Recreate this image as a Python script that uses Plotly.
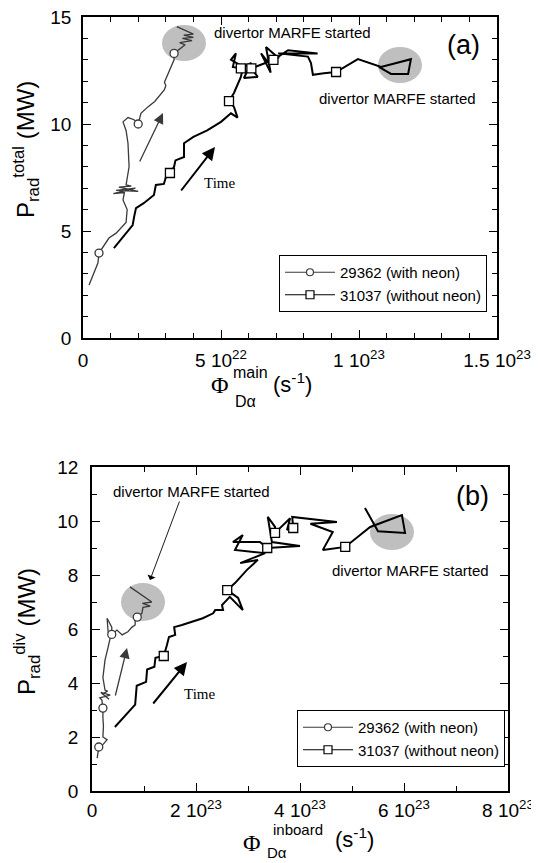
import numpy as np
import plotly.graph_objects as go

W, H = 539, 863          # browser window
OFF = 8                  # default page margin around the plot div
FW, FH = W - OFF, H - OFF

# ---------------- data: panel (a) (x in units of 1e22 s^-1, y in MW) ----------
neon_a_x = [0.22, 0.35, 0.45, 0.54, 0.58, 0.75, 0.94, 1.20, 1.56, 1.60,
            1.45, 1.50, 1.10, 1.90, 1.20, 2.00, 1.30, 1.75, 1.56, 1.67,
            1.63, 1.56, 1.45, 1.63, 1.85, 2.00, 2.10, 2.35, 2.60, 2.95,
            3.00, 2.95, 3.13, 3.30, 3.30, 3.44, 3.70, 3.50, 3.95, 3.60,
            4.00, 3.65, 4.00, 3.40]
neon_a_y = [2.48, 2.90, 3.30, 3.50, 3.97, 4.30, 4.67, 4.90, 5.40, 6.00,
            6.45, 6.80, 6.75, 7.00, 6.90, 6.85, 7.05, 7.10, 7.15, 8.00,
            9.10, 9.70, 10.10, 10.30, 10.20, 10.00, 10.50, 10.80, 11.05, 11.60,
            11.80, 11.95, 12.50, 13.00, 13.30, 13.45, 13.70, 13.80, 13.90, 14.00,
            14.05, 14.15, 14.20, 14.55]
neon_a_marks = [4, 25, 34]

noneon_a_x = [1.12, 1.56, 1.80, 1.85, 1.92, 2.20, 2.57, 2.64, 2.93, 3.00,
              3.15, 3.30, 3.35, 3.66, 3.66, 4.00, 4.50, 5.00, 5.36, 5.60,
              5.47, 5.29, 5.47, 5.72, 5.80, 5.36, 5.54, 5.43, 5.72, 6.10,
              5.83, 6.33, 6.10, 6.70, 6.45, 6.80, 6.63, 7.07, 6.90, 7.43,
              8.50, 7.07, 8.15, 8.26, 8.33, 8.73, 9.17, 9.96, 10.80, 11.88,
              11.78, 11.16, 10.72]
noneon_a_y = [4.20, 4.90, 5.28, 5.65, 6.07, 6.30, 6.68, 7.15, 7.20, 7.50,
              7.71, 8.00, 8.30, 8.46, 9.10, 9.40, 9.70, 10.10, 10.50, 10.30,
              10.80, 11.07, 11.45, 12.20, 12.67, 13.00, 13.30, 12.67, 12.60, 12.85,
              12.15, 12.20, 12.60, 12.90, 13.30, 12.40, 13.60, 13.10, 13.00, 13.45,
              13.30, 13.30, 13.15, 12.85, 12.30, 12.37, 12.43, 13.03, 12.67, 13.03,
              12.34, 12.34, 12.67]
noneon_a_marks = [10, 21, 28, 32, 38, 46]

# ---------------- data: panel (b) (x in units of 1e23 s^-1, y in MW) ----------
neon_b_x = [0.10, 0.12, 0.13, 0.21, 0.29, 0.21, 0.22, 0.21, 0.21, 0.19,
            0.15, 0.35, 0.17, 0.33, 0.20, 0.30, 0.25, 0.21, 0.25, 0.31,
            0.35, 0.31, 0.29, 0.38, 0.38, 0.48, 0.58, 0.69, 0.77, 0.83,
            0.83, 0.87, 0.96, 0.98, 1.12, 0.97, 1.15, 0.73]
neon_b_y = [1.22, 1.45, 1.63, 1.72, 1.90, 2.00, 2.40, 2.70, 3.07, 3.37,
            3.45, 3.55, 3.65, 3.40, 3.60, 3.70, 3.74, 4.20, 4.85, 5.33,
            5.67, 5.90, 6.40, 6.07, 5.80, 5.96, 5.78, 5.90, 6.07, 6.15,
            6.33, 6.44, 6.58, 6.80, 6.85, 6.95, 7.00, 7.56]
neon_b_marks = [2, 8, 24, 31]

noneon_b_x = [0.44, 0.65, 0.83, 0.86, 1.04, 1.06, 1.20, 1.22, 1.31, 1.38,
              1.44, 1.48, 1.60, 1.58, 1.73, 2.13, 2.33, 2.37, 2.52, 2.50,
              2.65, 2.90, 2.81, 2.60, 2.75, 2.98, 3.19, 2.85, 3.33, 2.75,
              2.90, 2.71, 3.23, 3.37, 4.00, 3.46, 3.38, 3.52, 3.52, 3.81,
              3.75, 3.87, 3.85, 4.71, 4.20, 4.63, 4.44, 4.87, 5.35, 5.96,
              6.02, 5.50, 5.25]
noneon_b_y = [2.37, 2.80, 3.20, 3.90, 4.04, 4.50, 4.60, 4.93, 4.96, 5.00,
              5.40, 5.70, 5.78, 6.07, 6.15, 6.40, 6.58, 6.70, 6.70, 6.89,
              7.19, 6.70, 7.15, 7.44, 7.70, 8.19, 8.56, 8.44, 8.81, 8.93,
              9.48, 9.22, 9.22, 9.00, 9.07, 9.22, 10.15, 9.78, 9.56, 10.10,
              9.67, 9.74, 10.15, 9.96, 9.90, 9.59, 8.93, 9.04, 9.78, 10.22,
              9.56, 9.62, 10.48]
noneon_b_marks = [9, 23, 33, 38, 41, 47]

series_names = ["29362 (with neon)", "31037 (without neon)"]
x_ticks_a = [0, 5e22, 1e23, 1.5e23]
x_ticktext_a = ["0", "5 10<sup>22</sup>", "1 10<sup>23</sup>", "1.5 10<sup>23</sup>"]
x_ticks_b = [0, 2e23, 4e23, 6e23, 8e23]
x_ticktext_b = ["0", "2 10<sup>23</sup>", "4 10<sup>23</sup>", "6 10<sup>23</sup>", "8 10<sup>23</sup>"]

SCALE_A = 1e22
SCALE_B = 1e23

NEON_COLOR = "#3a3a3a"
SANS = "Liberation Sans, Arial, sans-serif"
SERIF = "Liberation Serif, Times New Roman, serif"


def px2paper(px, py):
    """window pixel -> paper coordinate of the (offset) figure"""
    return (px - OFF) / FW, 1 - (py - OFF) / FH


fig = go.Figure()


def add_series(x, y, marks, scale, xa, ya, color, width, symbol, msize, legend, name):
    xs = np.array(x) * scale
    ys = np.array(y)
    idx = np.array(marks)
    fig.add_trace(go.Scatter(x=xs, y=ys, mode="lines", xaxis=xa, yaxis=ya,
                             line=dict(color=color, width=width), showlegend=False,
                             hoverinfo="skip"))
    fig.add_trace(go.Scatter(x=xs[idx], y=ys[idx], mode="markers", xaxis=xa, yaxis=ya,
                             marker=dict(symbol=symbol, size=msize, color="white",
                                         line=dict(color=color, width=1.3)),
                             showlegend=False, hoverinfo="skip"))
    # legend entry
    fig.add_trace(go.Scatter(x=[None], y=[None], mode="lines+markers", xaxis=xa, yaxis=ya,
                             name=name, legend=legend,
                             line=dict(color=color, width=1.1),
                             marker=dict(symbol=symbol, size=msize - 1, color="white",
                                         line=dict(color=color, width=1.2))))


add_series(neon_a_x, neon_a_y, neon_a_marks, SCALE_A, "x", "y", NEON_COLOR, 1.3,
           "circle", 8, "legend", series_names[0])
add_series(noneon_a_x, noneon_a_y, noneon_a_marks, SCALE_A, "x", "y", "black", 2.0,
           "square", 9, "legend", series_names[1])
add_series(neon_b_x, neon_b_y, neon_b_marks, SCALE_B, "x2", "y2", NEON_COLOR, 1.3,
           "circle", 8, "legend2", series_names[0])
add_series(noneon_b_x, noneon_b_y, noneon_b_marks, SCALE_B, "x2", "y2", "black", 2.0,
           "square", 9, "legend2", series_names[1])

# ---------------- axes ----------------
common = dict(showline=True, linecolor="black", linewidth=1.5, mirror="ticks",
              ticks="inside", ticklen=8, tickwidth=1.2, tickcolor="black",
              showgrid=False, zeroline=False, automargin=False,
              ticklabeloverflow="allow",
              tickfont=dict(family=SANS, size=19, color="black"))


def dom_x(p0, p1):
    return [px2paper(p0, 0)[0], px2paper(p1, 0)[0]]


def dom_y(top, bottom):
    return [px2paper(0, bottom)[1], px2paper(0, top)[1]]


fig.update_layout(
    xaxis=dict(domain=dom_x(83, 497), anchor="y", range=[0, 1.5e23], tickmode="array",
               tickvals=x_ticks_a, ticktext=x_ticktext_a, ticklabelstandoff=4,
               minor=dict(dtick=1e22, tick0=0, ticks="inside", ticklen=5, tickcolor="black"),
               **common),
    yaxis=dict(domain=dom_y(17, 338), anchor="x", range=[0, 15], tickmode="array",
               tickvals=[0, 5, 10, 15], ticktext=["0", "5", "10", "15"], ticklabelstandoff=6,
               minor=dict(dtick=1, tick0=0, ticks="inside", ticklen=5, tickcolor="black"),
               **common),
    xaxis2=dict(domain=dom_x(92, 508), anchor="y2", range=[0, 8e23], tickmode="array",
                tickvals=x_ticks_b, ticktext=x_ticktext_b, ticklabelstandoff=1,
                minor=dict(dtick=1e23, tick0=0, ticks="inside", ticklen=5, tickcolor="black"),
                **common),
    yaxis2=dict(domain=dom_y(467, 791), anchor="x2", range=[0, 12], tickmode="array",
                tickvals=[0, 2, 4, 6, 8, 10, 12], ticktext=["0", "2", "4", "6", "8", "10", "12"],
                ticklabelstandoff=8,
                minor=dict(dtick=1, tick0=0, ticks="inside", ticklen=5, tickcolor="black"),
                **common),
)

# ---------------- legends ----------------
lx, ly = px2paper(487, 255)
l2x, l2y = px2paper(505, 710)
legend_common = dict(xref="paper", yref="paper", xanchor="right", yanchor="top",
                     bgcolor="white", bordercolor="black", borderwidth=1,
                     font=dict(family=SANS, size=15, color="black"),
                     tracegroupgap=0, itemwidth=50)
fig.update_layout(legend=dict(x=lx, y=ly, **legend_common),
                  legend2=dict(x=l2x, y=l2y, **legend_common))

# ---------------- shaded MARFE regions ----------------
shapes = []
for cx, cy, rx, ry in [(184, 43, 22, 18), (400, 65, 22, 18), (143, 602, 22, 19), (392, 532, 22, 18)]:
    x0, y1 = px2paper(cx - rx, cy - ry)
    x1, y0 = px2paper(cx + rx, cy + ry)
    shapes.append(dict(type="circle", xref="paper", yref="paper", x0=x0, x1=x1, y0=y0, y1=y1,
                       fillcolor="#b4b4b4", line=dict(width=0), layer="below", opacity=0.85))
fig.update_layout(shapes=shapes)

# ---------------- annotations ----------------
ann = []


def text(px, py, s, size, family=SANS, angle=0):
    x, y = px2paper(px, py)
    ann.append(dict(x=x, y=y, xref="paper", yref="paper", text=s, showarrow=False,
                    xanchor="center", yanchor="middle", textangle=angle,
                    font=dict(family=family, size=size, color="black")))


def arrow(tx, ty, hx, hy, color="black", width=2.0, head=2, size=1.3):
    x, y = px2paper(hx, hy)
    ann.append(dict(x=x, y=y, xref="paper", yref="paper", ax=tx - hx, ay=ty - hy,
                    axref="pixel", ayref="pixel", text="", showarrow=True,
                    arrowhead=head, arrowsize=size, arrowwidth=width, arrowcolor=color,
                    standoff=0, startstandoff=0))


# panel (a)
text(292, 33, "divertor MARFE started", 15)
text(397, 98, "divertor MARFE started", 15)
text(463, 45, "(a)", 27)
text(219, 183, "Time", 15, SERIF)
arrow(139, 163, 163, 113, color=NEON_COLOR, width=1.3, head=2, size=1.6)
arrow(180, 192, 215, 147, color="black", width=2, head=2, size=1.3)
text(26, 150, "P<sub>rad</sub><sup>total</sup> (MW)", 24, angle=-90)
text(220, 385, "Φ", 24, SERIF)
text(250, 372, "main", 16)
text(245, 401, "Dα", 16)
text(292, 383, "(s<sup>-1</sup>)", 22)

# panel (b)
text(191, 491, "divertor MARFE started", 15)
text(410, 570, "divertor MARFE started", 15)
text(472, 496, "(b)", 27)
text(199, 694, "Time", 15, SERIF)
arrow(115, 697, 127, 648, color=NEON_COLOR, width=1.3, head=2, size=1.6)
arrow(152, 705, 187, 662, color="black", width=2, head=2, size=1.3)
arrow(180, 500, 150, 580, color="black", width=0.9, head=1, size=1.6)
text(27, 632, "P<sub>rad</sub><sup>div</sup> (MW)", 24, angle=-90)
text(252, 843, "Φ", 24, SERIF)
text(298, 829, "inboard", 15)
text(277, 852, "Dα", 15)
text(354, 838, "(s<sup>-1</sup>)", 22)

fig.update_layout(annotations=ann)

fig.update_layout(width=FW, height=FH, autosize=False,
                  margin=dict(l=0, r=0, t=0, b=0),
                  paper_bgcolor="white", plot_bgcolor="white")

fig.write_html("out.html")
